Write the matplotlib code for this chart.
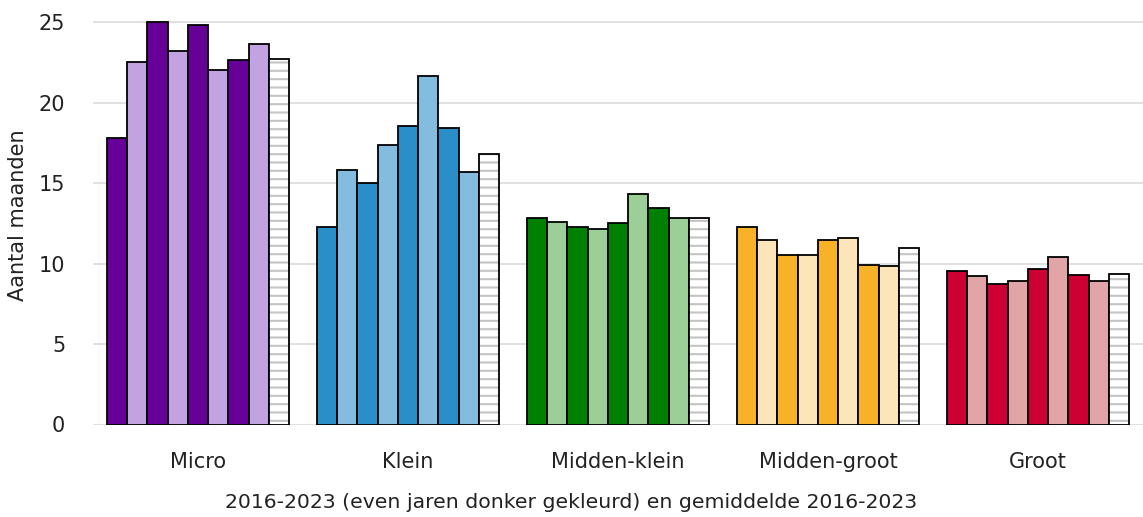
import matplotlib
matplotlib.use("Agg")
import matplotlib.pyplot as plt
import numpy as np

plt.rcParams['font.family'] = ['DejaVu Sans']
plt.rcParams['hatch.linewidth'] = 1.5
plt.rcParams['hatch.color'] = '#c4c4c4'

categories = ["Micro", "Klein", "Midden-klein", "Midden-groot", "Groot"]
years = [2016, 2017, 2018, 2019, 2020, 2021, 2022, 2023]

micro = [17.8, 22.5, 25.03, 23.2, 24.85, 22.0, 22.65, 23.65]
klein = [12.3, 15.8, 15.0, 17.35, 18.55, 21.65, 18.4, 15.7]
midden_klein = [12.8, 12.6, 12.27, 12.16, 12.53, 14.32, 13.47, 12.8]
midden_groot = [12.29, 11.48, 10.51, 10.55, 11.48, 11.6, 9.93, 9.86]
groot = [9.52, 9.24, 8.71, 8.91, 9.66, 10.4, 9.29, 8.91]
averages = [22.7, 16.82, 12.85, 10.94, 9.33]

series = [micro, klein, midden_klein, midden_groot, groot]
dark_colors = ["#660099", "#2a8fc9", "#008000", "#f7b228", "#cc0033"]
light_colors = ["#c3a2e2", "#84bcdf", "#9ccf98", "#fce5b8", "#e1a5a8"]

ylabel = "Aantal maanden"
xlabel = "2016-2023 (even jaren donker gekleurd) en gemiddelde 2016-2023"

fig = plt.figure(figsize=(11.43, 5.17), dpi=100)
ax = fig.add_axes([93 / 1143, (517 - 424.5) / 517, 1 - 93 / 1143, (424.5 - 6) / 517])

w = 0.0962
x = np.arange(len(categories))
for g, vals in enumerate(series):
    for i, v in enumerate(vals):
        col = dark_colors[g] if i % 2 == 0 else light_colors[g]
        ax.bar(x[g] + (i - 4) * w, v, width=w, color=col, edgecolor="black",
               linewidth=1.3, zorder=3)
    # average bar: hatch in gray (from rcParams), outline black
    ax.bar(x[g] + 4 * w, averages[g], width=w, color="white",
           hatch="--", linewidth=0, zorder=3)
    ax.bar(x[g] + 4 * w, averages[g], width=w, fill=False, edgecolor="black",
           linewidth=1.3, zorder=4)

ax.set_xlim(-0.5, 4.5)
ax.set_ylim(0, 26)
ax.set_yticks([0, 5, 10, 15, 20, 25])
ax.set_xticks(x)
ax.set_xticklabels(categories)
ax.yaxis.grid(True, color="#d9d9d9", linewidth=1.1, zorder=0)
ax.set_axisbelow(True)
for s in ax.spines.values():
    s.set_visible(False)
ax.tick_params(axis="y", length=0, pad=20, labelsize=15, colors="#222222")
ax.tick_params(axis="x", length=0, pad=20, labelsize=15, colors="#222222")
ax.set_ylabel(ylabel, fontsize=15, color="#222222", labelpad=8)
ax.set_xlabel(xlabel, fontsize=14.7, color="#222222")
ax.xaxis.set_label_coords((571.5 - 93) / 1050, -(517 - 424.5 - 5) / 418.5, transform=ax.transAxes)
ax.xaxis.label.set_verticalalignment("bottom")

fig.savefig("out.png", dpi=100)
